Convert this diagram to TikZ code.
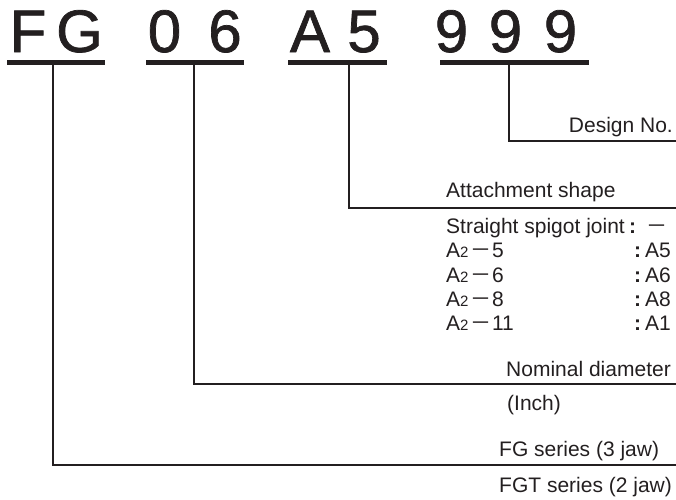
\documentclass[tikz,border=0pt]{standalone}
\usepackage{fontspec}
\setmainfont{Liberation Sans}
\newfontfamily\bigfont{Liberation Sans}[FakeBold=1.2]
\newfontfamily\cjk{Noto Sans CJK JP}
\definecolor{ink}{RGB}{35,31,32}
\begin{document}
\begin{tikzpicture}[x=1pt,y=-1pt,
  big/.style={inner sep=0pt,anchor=base,text=ink,font=\bigfont\fontsize{60}{60}\selectfont},
  lbl/.style={inner sep=0pt,text=ink,font=\fontsize{21}{21}\selectfont},
  colon/.style={inner sep=0pt,anchor=base,text=ink,font=\bfseries\fontsize{21}{21}\selectfont},
  uline/.style={draw=ink,line width=5pt},
  lead/.style={draw=ink,line width=2pt,line join=miter}]
\useasboundingbox (0,0) rectangle (676,499);
% big code letters
\node[big] (L1) at (28,52) {F};
\node[big] (L2) at (79.5,52) {G};
\node[big] (L3) at (164.5,52) {0};
\node[big] (L4) at (225,52) {6};
\node[big] (L5) at (310,52) {A};
\node[big] (L6) at (364,52) {5};
\node[big] (L7) at (451.5,52) {9};
\node[big] (L8) at (505.5,52) {9};
\node[big] (L9) at (560.5,52) {9};
% underlines
\coordinate (u1a) at (7,62.5);   \coordinate (u1b) at (105,62.5);
\coordinate (u2a) at (146,62.5); \coordinate (u2b) at (244,62.5);
\coordinate (u3a) at (288,62.5); \coordinate (u3b) at (387,62.5);
\coordinate (u4a) at (440,62.5); \coordinate (u4b) at (589,62.5);
\draw[uline] (u1a) -- (u1b);
\draw[uline] (u2a) -- (u2b);
\draw[uline] (u3a) -- (u3b);
\draw[uline] (u4a) -- (u4b);
% leader start/end points
\coordinate (s1) at (53,64);  \coordinate (e1) at (676,465);
\coordinate (s2) at (194,64); \coordinate (e2) at (676,384);
\coordinate (s3) at (349,64); \coordinate (e3) at (676,207.5);
\coordinate (s4) at (509,64); \coordinate (e4) at (676,141);
\draw[lead] (s1) |- (e1);
\draw[lead] (s2) |- (e2);
\draw[lead] (s3) |- (e3);
\draw[lead] (s4) |- (e4);
% labels
\node[lbl,anchor=base east] (design) at (673,132) {Design No.};
\node[lbl,anchor=base west] (attach) at (446,197) {Attachment shape};
\node[lbl,anchor=base west] (str) at (446,233) {Straight spigot joint};
\node[colon] (c0) at (632.5,233) {:};
\node[lbl,anchor=base] (d0) at (656.5,233) {\cjk －};
\newcommand\Atwo[1]{A{\fontsize{15}{15}\selectfont 2}\kern1.5pt{\cjk －}\kern1pt #1}
\node[lbl,anchor=base west] (r1) at (446,257.5) {\Atwo{5}};
\node[lbl,anchor=base west] (r2) at (446,282) {\Atwo{6}};
\node[lbl,anchor=base west] (r3) at (446,306) {\Atwo{8}};
\node[lbl,anchor=base west] (r4) at (446,330) {\Atwo{11}};
\node[colon] (c1) at (637.5,257.5) {:};
\node[colon] (c2) at (637.5,282) {:};
\node[colon] (c3) at (637.5,306) {:};
\node[colon] (c4) at (637.5,330) {:};
\node[lbl,anchor=base west] (v1) at (645,257.5) {A5};
\node[lbl,anchor=base west] (v2) at (645,282) {A6};
\node[lbl,anchor=base west] (v3) at (645,306) {A8};
\node[lbl,anchor=base west] (v4) at (645,330) {A1};
\node[lbl,anchor=base east] (nom) at (671,376) {Nominal diameter};
\node[lbl,anchor=base west] (inch) at (507,410) {(Inch)};
\node[lbl,anchor=base west] (fg) at (499,456) {FG series (3 jaw)};
\node[lbl,anchor=base west] (fgt) at (499,492) {FGT series (2 jaw)};
\end{tikzpicture}
\end{document}
